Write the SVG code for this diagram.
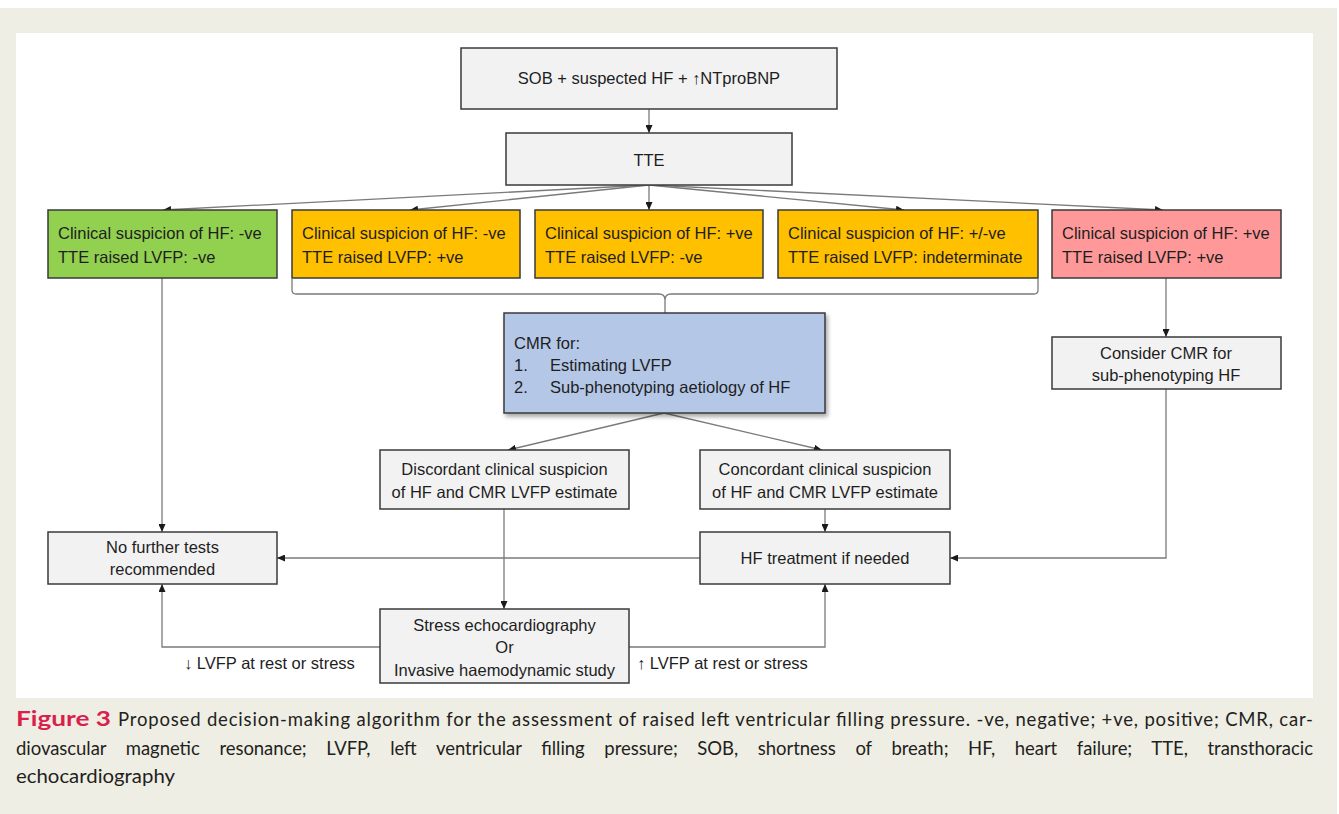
<svg xmlns="http://www.w3.org/2000/svg" width="1339" height="814" viewBox="0 0 1339 814">
<defs>
<style>
.box{stroke:#3a3a3a;stroke-width:1.5}
.gray{fill:#F2F2F2}
.t{font-family:"Liberation Sans",Arial,sans-serif;font-size:16.5px;fill:#1e1e1e}
.c{text-anchor:middle}
.con{fill:none;stroke:#7a7a7a;stroke-width:1.3}
.cap{font-family:Lato,"Liberation Sans",sans-serif;font-size:18.5px;fill:#231F20}
</style>
<marker id="ah" viewBox="0 0 8 7" markerWidth="8" markerHeight="7" refX="8" refY="3.5" orient="auto" markerUnits="userSpaceOnUse">
<path d="M0,0 L8,3.5 L0,7 z" fill="#1a1a1a"/>
</marker>
<filter id="sh" x="-10%" y="-10%" width="130%" height="140%">
<feDropShadow dx="2" dy="3" stdDeviation="2" flood-color="#000" flood-opacity="0.35"/>
</filter>
</defs>
<rect x="0" y="0" width="1339" height="814" fill="#ffffff"/>
<rect x="0" y="8" width="1337" height="806" fill="#EFEEE4"/>
<rect x="16" y="33" width="1297" height="665" fill="#ffffff"/>

<g id="connectors">
<path class="con" d="M649,109 V133" marker-end="url(#ah)"/>
<path class="con" d="M649,185 L163,210" marker-end="url(#ah)"/>
<path class="con" d="M649,185 L410,210" marker-end="url(#ah)"/>
<path class="con" d="M649,185 V210" marker-end="url(#ah)"/>
<path class="con" d="M649,185 L904,210" marker-end="url(#ah)"/>
<path class="con" d="M649,185 L1163,210" marker-end="url(#ah)"/>
<path class="con" d="M292,279 V290 Q292,294 296,294 H659 Q665,294 665,300 M1038,279 V290 Q1038,294 1034,294 H671 Q665,294 665,300 V313"/>
<path class="con" d="M162,278 V532" marker-end="url(#ah)"/>
<path class="con" d="M1166,278 V337" marker-end="url(#ah)"/>
<path class="con" d="M664,413 L508,450" marker-end="url(#ah)"/>
<path class="con" d="M664,413 L822,450" marker-end="url(#ah)"/>
<path class="con" d="M504,509 V609" marker-end="url(#ah)"/>
<path class="con" d="M825,509 V532" marker-end="url(#ah)"/>
<path class="con" d="M700,558 H277" marker-end="url(#ah)"/>
<path class="con" d="M1166,389 V558 H950" marker-end="url(#ah)"/>
<path class="con" d="M380,647 H162 V584" marker-end="url(#ah)"/>
<path class="con" d="M629,647 H825 V584" marker-end="url(#ah)"/>
<text class="t" x="184" y="669">↓ LVFP at rest or stress</text>
<text class="t" x="637" y="669">↑ LVFP at rest or stress</text>
</g>

<g id="sob">
<rect class="box gray" x="461" y="48" width="376" height="61"/>
<text class="t c" x="649" y="84">SOB + suspected HF + ↑NTproBNP</text>
</g>
<g id="tte">
<rect class="box gray" x="506" y="133" width="286" height="52"/>
<text class="t c" x="649" y="166">TTE</text>
</g>
<g id="neg-neg">
<rect class="box" x="48" y="210" width="229" height="68" fill="#92D050"/>
<text class="t" x="58" y="239">Clinical suspicion of HF: -ve</text>
<text class="t" x="58" y="263">TTE raised LVFP: -ve</text>
</g>
<g id="neg-pos">
<rect class="box" x="292" y="210" width="228" height="68" fill="#FFC000"/>
<text class="t" x="302" y="239">Clinical suspicion of HF: -ve</text>
<text class="t" x="302" y="263">TTE raised LVFP: +ve</text>
</g>
<g id="pos-neg">
<rect class="box" x="535" y="210" width="228" height="68" fill="#FFC000"/>
<text class="t" x="545" y="239">Clinical suspicion of HF: +ve</text>
<text class="t" x="545" y="263">TTE raised LVFP: -ve</text>
</g>
<g id="indet">
<rect class="box" x="778" y="210" width="260" height="68" fill="#FFC000"/>
<text class="t" x="788" y="239">Clinical suspicion of HF: +/-ve</text>
<text class="t" x="788" y="263">TTE raised LVFP: indeterminate</text>
</g>
<g id="pos-pos">
<rect class="box" x="1052" y="210" width="229" height="68" fill="#FF9999"/>
<text class="t" x="1062" y="239">Clinical suspicion of HF: +ve</text>
<text class="t" x="1062" y="263">TTE raised LVFP: +ve</text>
</g>
<g id="cmr">
<rect class="box" x="504" y="313" width="321" height="100" fill="#B4C7E7" filter="url(#sh)"/>
<text class="t" x="514" y="349">CMR for:</text>
<text class="t" x="514" y="371">1.</text>
<text class="t" x="550" y="371">Estimating LVFP</text>
<text class="t" x="514" y="393">2.</text>
<text class="t" x="550" y="393">Sub-phenotyping aetiology of HF</text>
</g>
<g id="consider">
<rect class="box gray" x="1052" y="337" width="229" height="52"/>
<text class="t c" x="1166" y="359">Consider CMR for</text>
<text class="t c" x="1166" y="381">sub-phenotyping HF</text>
</g>
<g id="discordant">
<rect class="box gray" x="380" y="450" width="249" height="59"/>
<text class="t c" x="504.5" y="475">Discordant clinical suspicion</text>
<text class="t c" x="504.5" y="498">of HF and CMR LVFP estimate</text>
</g>
<g id="concordant">
<rect class="box gray" x="700" y="450" width="250" height="59"/>
<text class="t c" x="825" y="475">Concordant clinical suspicion</text>
<text class="t c" x="825" y="498">of HF and CMR LVFP estimate</text>
</g>
<g id="nofurther">
<rect class="box gray" x="48" y="532" width="229" height="52"/>
<text class="t c" x="162.5" y="553">No further tests</text>
<text class="t c" x="162.5" y="575">recommended</text>
</g>
<g id="hftreat">
<rect class="box gray" x="700" y="532" width="250" height="52"/>
<text class="t c" x="825" y="564">HF treatment if needed</text>
</g>
<g id="stress">
<rect class="box gray" x="380" y="609" width="249" height="74"/>
<text class="t c" x="504.5" y="631">Stress echocardiography</text>
<text class="t c" x="504.5" y="653">Or</text>
<text class="t c" x="504.5" y="676">Invasive haemodynamic study</text>
</g>

<g id="caption">
<text x="16" y="726" font-family="Lato,'Liberation Sans',sans-serif" font-weight="bold" font-size="21" fill="#DA1F4D" textLength="95" lengthAdjust="spacingAndGlyphs">Figure 3</text>
<text class="cap" x="118" y="726" textLength="1195" lengthAdjust="spacing">Proposed decision-making algorithm for the assessment of raised left ventricular filling pressure. -ve, negative; +ve, positive; CMR, car-</text>
<text class="cap" x="16" y="755" word-spacing="15" textLength="1297" lengthAdjust="spacing">diovascular magnetic resonance; LVFP, left ventricular filling pressure; SOB, shortness of breath; HF, heart failure; TTE, transthoracic</text>
<text class="cap" x="16" y="783" textLength="159" lengthAdjust="spacingAndGlyphs">echocardiography</text>
</g>
</svg>
